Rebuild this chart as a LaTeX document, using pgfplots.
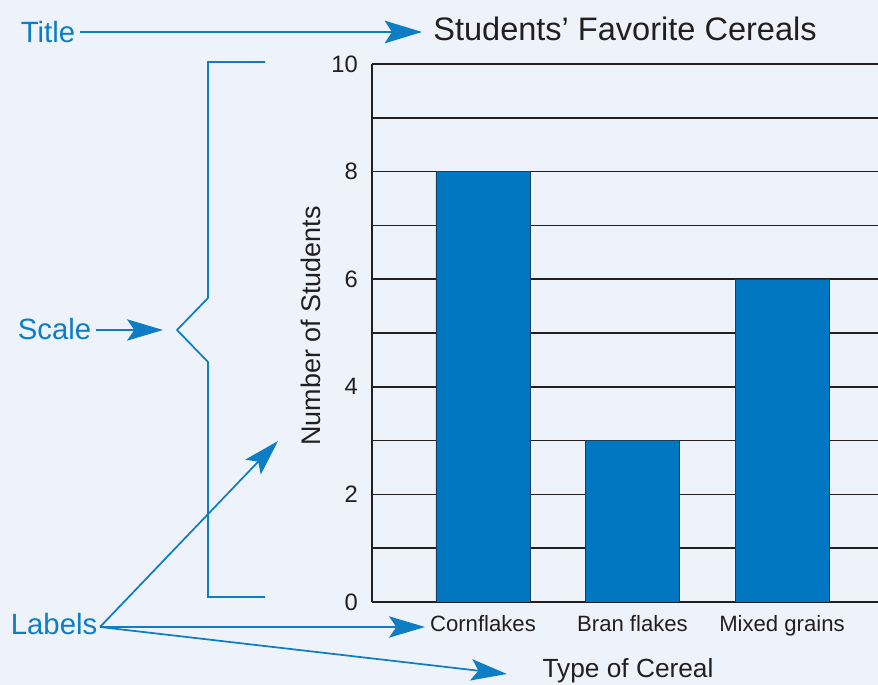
\documentclass[border=0pt]{standalone}
\usepackage{fontspec}
\setmainfont{Liberation Sans}
\usepackage{pgfplots}
\pgfplotsset{compat=1.18}
\usetikzlibrary{arrows.meta}
\definecolor{bg}{RGB}{237,242,251}
\definecolor{barblue}{RGB}{0,119,192}
\definecolor{baredge}{RGB}{28,60,92}
\definecolor{anno}{RGB}{14,125,196}
\definecolor{ink}{RGB}{35,31,32}
\begin{document}
\begin{tikzpicture}
\path[use as bounding box, fill=bg] (0,0) rectangle (658.5pt,513.75pt);
\begin{axis}[
  at={(279pt,62.25pt)}, anchor=south west,
  scale only axis, width=379.5pt, height=403.5pt,
  xmin=-0.742, xmax=2.642, ymin=0, ymax=10,
  axis x line*=bottom, axis y line*=left,
  x axis line style={line width=1.9pt, color=ink},
  y axis line style={line width=1.1pt, color=ink},
  ybar, bar width=70.5pt,
  xtick={0,1,2}, xticklabels={Cornflakes,Bran flakes,Mixed grains},
  ytick={0,2,...,10}, minor ytick={1,3,...,9},
  major tick length=0pt, minor tick length=0pt,
  ymajorgrids, yminorgrids,
  major grid style={line width=1.15pt, ink},
  minor grid style={line width=1.15pt, ink},
  /pgf/number format/assume math mode=true,
  tick label style={text=ink},
  xticklabel style={font=\fontsize{16.6}{19}\selectfont, anchor=base, inner sep=0pt, yshift=-22.5pt},
  yticklabel style={font=\fontsize{17.8}{21}\selectfont, anchor=east, inner sep=0pt, xshift=-10.5pt},
  every axis title shift=0pt,
  title={Students’ Favorite Cereals},
  title style={font=\fontsize{24.4}{28}\selectfont, text=ink, at={(axis description cs:0.5,1)}, anchor=base, yshift=17.25pt, inner sep=0pt},
  xlabel={Type of Cereal},
  xlabel style={font=\fontsize{19.7}{22}\selectfont, text=ink, at={(axis description cs:0.506,0)}, anchor=base, yshift=-57pt, inner sep=0pt},
  ylabel={Number of Students},
  ylabel style={font=\fontsize{20.2}{24}\selectfont, text=ink, at={(axis description cs:-0.1206,0.513)}, anchor=center, inner sep=0pt},
]
\addplot[fill=barblue, draw=baredge, line width=0.6pt] coordinates {(0,8) (1,3) (2,6)};
\end{axis}
\begin{scope}[x=0.75pt, y=-0.75pt, yshift=513.75pt, line width=1.3pt, draw=anno, color=anno]
  \draw[-{Stealth[length=28pt,width=17pt,inset=5.5pt]}] (80,32) -- (422,32);
  \draw[-{Stealth[length=27pt,width=16pt,inset=5.5pt]}] (96,330) -- (163,330);
  \draw (265,62) -- (208,62) -- (208,298) -- (177,330) -- (208,362) -- (208,597) -- (265,597);
  \draw[-{Stealth[length=27pt,width=16pt,inset=5.5pt]}] (100,627) -- (278,441);
  \draw[-{Stealth[length=27pt,width=16pt,inset=5.5pt]}] (100,627) -- (425,627);
  \draw[-{Stealth[length=27pt,width=16pt,inset=5.5pt]}] (100,627) -- (507,674);
  \node[anchor=base west, inner sep=0pt, font=\fontsize{22}{26}\selectfont, text=anno] at (20,43) {Title};
  \node[anchor=base west, inner sep=0pt, font=\fontsize{22}{26}\selectfont, text=anno] at (17,340) {Scale};
  \node[anchor=base west, inner sep=0pt, font=\fontsize{22}{26}\selectfont, text=anno] at (10,635) {Labels};
\end{scope}
\end{tikzpicture}
\end{document}
